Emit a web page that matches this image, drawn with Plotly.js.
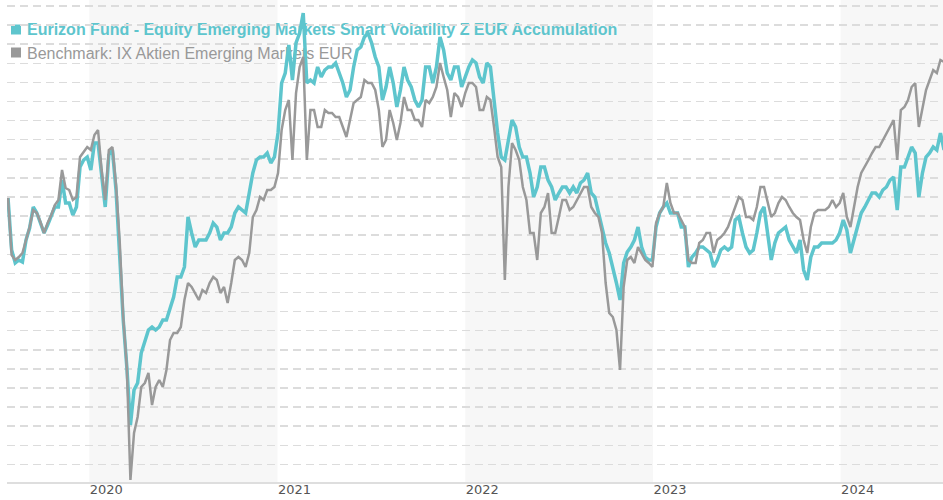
<!DOCTYPE html>
<html>
<head>
<meta charset="utf-8">
<script src="https://cdn.plot.ly/plotly-3.0.1.min.js"></script>
<style>html,body{margin:0;padding:0;background:#fff}#chart{width:943px;height:500px}</style>
</head>
<body>
<div id="chart"></div>
<script>
// ---- data (weekly closes, indexed, start = 100) ----
const SERIES_START = '2019-07-27';
const STEP_DAYS = 7;
const FUND_NAME = 'Eurizon Fund - Equity Emerging Markets Smart Volatility Z EUR Accumulation';
const BENCH_NAME = 'Benchmark: IX Aktien Emerging Markets EUR';
const fund = [
  99.9,94.7,93.4,93.7,93.5,95.7,96.9,99.0,98.4,97.4,
  96.4,97.2,98.0,99.0,99.0,101.7,99.4,99.4,98.2,99.0,
  103.0,103.7,104.0,102.7,105.4,105.4,102.2,99.0,104.2,104.7,
  100.7,93.7,87.7,83.0,77.2,80.7,81.4,84.4,85.7,86.7,
  87.0,86.7,87.0,87.7,87.7,89.0,90.0,92.0,92.0,93.0,
  98.0,96.4,95.0,95.7,95.7,95.7,96.4,97.4,97.0,95.7,
  96.4,96.4,97.0,98.4,99.0,98.7,98.4,100.4,102.4,103.7,
  104.0,104.0,104.4,103.4,104.0,106.4,111.4,112.4,115.2,111.7,
  115.4,116.4,118.4,111.4,111.7,111.4,113.0,112.0,112.7,113.0,
  113.0,113.4,112.4,111.4,110.0,110.7,113.0,114.7,115.0,116.0,
  116.4,115.4,114.0,113.0,109.7,111.0,113.0,111.4,109.0,110.7,
  113.0,111.7,111.0,109.7,109.0,109.7,113.0,113.0,111.4,113.0,
  116.0,114.7,112.4,111.7,113.0,113.0,111.0,112.0,113.0,113.7,
  113.4,112.0,111.4,113.4,113.0,109.7,106.4,104.0,103.7,105.7,
  107.7,107.0,105.0,104.0,104.0,102.4,100.0,101.0,103.0,103.0,
  101.7,101.0,99.7,100.4,101.0,101.0,100.4,101.0,100.4,101.4,
  101.7,102.4,100.4,100.0,98.4,97.0,95.4,94.4,93.0,91.4,
  89.7,93.4,94.5,95.0,95.7,97.0,95.0,94.0,93.7,93.7,
  97.0,98.4,99.0,99.4,98.4,98.4,98.4,97.0,97.0,93.0,
  94.0,94.4,95.0,95.0,94.7,94.4,93.0,93.7,94.7,95.0,
  94.7,95.0,97.7,98.0,96.4,95.0,94.4,94.7,96.4,98.4,
  99.0,96.4,93.7,95.4,96.4,96.7,97.0,95.7,95.0,94.4,
  95.7,92.7,91.7,94.0,95.0,95.0,95.4,95.4,95.4,95.4,
  95.7,96.4,97.7,96.7,94.4,95.7,97.0,98.4,99.0,99.7,
  100.4,100.4,100.0,100.7,101.0,101.7,102.0,98.7,103.0,103.0,
  104.0,105.0,104.4,100.0,102.4,104.0,104.4,105.0,104.7,106.4,
  104.7];
const bench = [
  99.9,94.2,93.7,94.0,94.4,95.7,97.0,98.7,98.4,97.5,
  96.4,97.4,98.2,99.2,99.7,102.7,100.9,100.7,99.7,100.0,
  104.0,104.5,105.0,104.7,106.2,106.7,102.7,99.7,104.7,105.0,
  101.2,95.7,88.0,83.0,71.7,76.4,78.0,81.0,81.4,82.4,
  79.2,81.0,81.7,81.0,82.7,85.7,86.4,86.4,87.0,89.7,
  91.4,91.0,90.4,89.7,90.7,90.4,91.4,92.0,91.7,90.4,
  91.0,89.4,91.4,93.7,94.0,93.7,93.0,94.4,98.0,98.7,
  100.0,99.7,100.7,100.7,101.0,102.4,106.7,108.7,109.7,103.7,
  110.4,113.0,114.0,103.7,108.7,108.7,107.0,107.0,108.7,108.4,
  108.4,108.0,108.0,107.0,106.0,107.7,109.4,109.7,110.0,111.7,
  111.4,111.4,110.7,108.7,105.0,105.7,108.7,107.4,105.7,107.4,
  110.0,108.7,108.7,107.7,107.7,107.0,109.7,109.4,110.0,111.0,
  113.4,112.0,110.7,108.0,110.4,110.0,109.0,110.4,111.4,111.4,
  111.0,108.7,108.7,110.0,109.7,107.0,104.0,103.0,91.7,101.0,
  105.4,104.7,103.7,101.0,99.7,96.4,96.4,93.7,98.4,99.0,
  100.4,96.4,96.4,98.0,99.7,99.7,98.7,99.0,99.7,100.4,
  101.0,101.0,99.0,98.4,98.0,96.4,91.4,88.4,88.0,86.7,
  82.7,91.0,93.7,94.0,93.4,95.0,94.4,93.7,93.4,93.0,
  97.4,98.4,99.0,101.4,99.4,98.4,98.4,97.7,97.0,93.7,
  93.4,93.4,95.4,95.7,96.4,96.4,94.4,95.7,96.0,96.4,
  97.0,98.0,99.0,100.0,99.7,98.0,98.0,97.7,99.0,101.0,
  101.0,99.4,98.0,98.4,99.4,100.0,99.7,99.0,98.4,98.0,
  97.7,95.7,94.4,97.0,98.4,98.7,98.7,98.7,99.0,99.7,
  99.0,99.4,100.4,98.0,97.0,99.0,101.0,102.4,103.0,103.7,
  104.4,105.0,105.0,105.7,106.4,107.0,107.7,103.7,108.7,109.0,
  109.7,111.0,111.4,107.0,108.7,110.7,111.7,112.7,112.4,113.7,
  113.5];
const yearTicks = ['2020-01-01','2021-01-01','2022-01-01','2023-01-01','2024-01-01'];
const yearLabels = ['2020','2021','2022','2023','2024'];
const shadedYears = [['2020-01-01','2021-01-01'],['2022-01-01','2023-01-01'],['2024-01-01','2024-07-18']];

// ---- styling ----
const FUND_COLOR = '#5ec5cd';
const BENCH_COLOR = '#999999';
const BAND_COLOR = '#f7f7f7';
const X_RANGE = ['2019-07-25','2024-07-18'];
const Y_RANGE = [71.5, 119.7];
const W = 943, H = 500, ML = 7, MB = 18;
const PW = W - ML, PH = H - MB;
const px = p => (p - ML) / PW;        // pixel -> paper x
const py = p => 1 - p / PH;           // pixel -> paper y

const traces = [
  {type:'scatter', mode:'lines', name:FUND_NAME, y:fund, x0:SERIES_START, dx:STEP_DAYS*86400000,
   line:{color:FUND_COLOR, width:3.5}, hoverinfo:'skip'},
  {type:'scatter', mode:'lines', name:BENCH_NAME, y:bench, x0:SERIES_START, dx:STEP_DAYS*86400000,
   line:{color:BENCH_COLOR, width:2.5}, hoverinfo:'skip'}
];

const shapes = [];
shadedYears.forEach(([a,b]) => shapes.push({type:'rect', xref:'x', yref:'paper', x0:a, x1:b, y0:0, y1:1,
  fillcolor:BAND_COLOR, line:{width:0}, layer:'below'}));
// the first legend row masks the grid line behind it (up to the end of the 2022 band)
shapes.push({type:'rect', xref:'x', yref:'paper', x0:X_RANGE[0], x1:'2023-01-01', y0:py(27), y1:py(23.2),
  fillcolor:'#ffffff', line:{width:0}, layer:'between'});
shadedYears.slice(0,2).forEach(([a,b]) => shapes.push({type:'rect', xref:'x', yref:'paper', x0:a, x1:b,
  y0:py(27), y1:py(23.2), fillcolor:BAND_COLOR, line:{width:0}, layer:'between'}));
// legend squares
shapes.push({type:'rect', xref:'paper', yref:'paper', x0:px(11), x1:px(21), y0:py(34.5), y1:py(24.5),
  fillcolor:FUND_COLOR, line:{width:0}, layer:'between'});
shapes.push({type:'rect', xref:'paper', yref:'paper', x0:px(11), x1:px(21), y0:py(57.5), y1:py(47.5),
  fillcolor:BENCH_COLOR, line:{width:0}, layer:'between'});
// legend texts
shapes.push({type:'rect', xref:'paper', yref:'paper', x0:px(24), x1:px(24), y0:py(27), y1:py(27),
  line:{width:0}, layer:'between',
  label:{text:'<b>'+FUND_NAME+'</b>', textposition:'middle left', padding:0,
         font:{family:'Liberation Sans, Arial, sans-serif', size:16, color:FUND_COLOR}}});
shapes.push({type:'rect', xref:'paper', yref:'paper', x0:px(24), x1:px(24), y0:py(51), y1:py(51),
  line:{width:0}, layer:'between',
  label:{text:BENCH_NAME, textposition:'middle left', padding:0,
         font:{family:'Liberation Sans, Arial, sans-serif', size:16, color:BENCH_COLOR}}});

const layout = {
  width:W, height:H, margin:{l:ML, r:0, t:0, b:MB, pad:0},
  paper_bgcolor:'#ffffff', plot_bgcolor:'#ffffff', showlegend:false,
  xaxis:{type:'date', range:X_RANGE, tickmode:'array', tickvals:yearTicks, ticktext:yearLabels,
    showgrid:false, zeroline:false, showline:true, linecolor:'#dedede', linewidth:2, ticks:'',
    tickfont:{family:'DejaVu Sans, sans-serif', size:13, color:'#555555'}, ticklabelshift:17,
    ticklabelstandoff:-6, fixedrange:true},
  yaxis:{range:Y_RANGE, tickmode:'linear', tick0:100, dtick:1.91, showticklabels:false, ticks:'',
    showgrid:true, gridcolor:'#dcdcdc', gridwidth:1.5, griddash:'8px,5px', zeroline:false, showline:false, fixedrange:true},
  shapes:shapes
};

Plotly.newPlot('chart', traces, layout, {displayModeBar:false, staticPlot:true});
</script>
</body>
</html>
